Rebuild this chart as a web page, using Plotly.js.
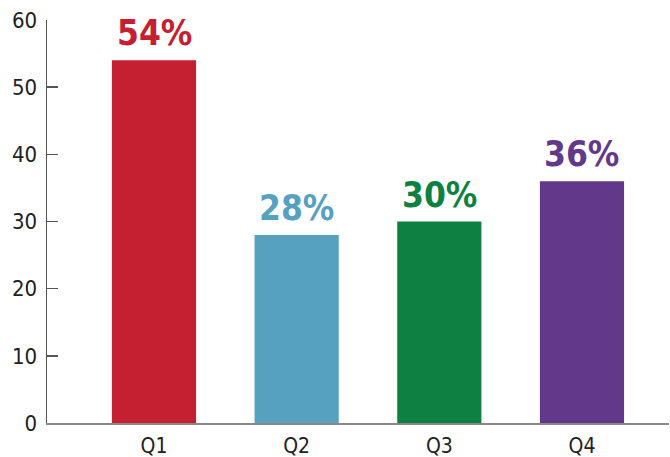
<!DOCTYPE html>
<html>
<head>
<meta charset="utf-8">
<script src="https://cdn.plot.ly/plotly-3.0.1.min.js"></script>
<style>html,body{margin:0;padding:0;background:#fff}#chart{width:670px;height:457px}</style>
</head>
<body>
<div id="chart"></div>
<script>
const categories = ["Q1", "Q2", "Q3", "Q4"];
const values = [54, 28, 30, 36];
const barColors = ["#C42032", "#56A1BF", "#0E8142", "#62398A"];
const yTicks = [0, 10, 20, 30, 40, 50, 60];

const FONT = "'DejaVu Sans Condensed', 'Liberation Sans Narrow', 'DejaVu Sans', sans-serif";

const trace = {
  type: "bar",
  x: categories,
  y: values,
  marker: { color: barColors },
  hoverinfo: "none"
};

const annotations = categories.map((c, i) => ({
  x: c, y: values[i], xref: "x", yref: "y",
  text: "<b>" + values[i] + "%</b>",
  showarrow: false, yanchor: "bottom", yshift: 5,
  font: { family: FONT, size: 35, color: barColors[i] }
}));

const layout = {
  width: 670, height: 457,
  margin: { l: 47, r: 1, t: 20, b: 34 },
  paper_bgcolor: "#fff", plot_bgcolor: "#fff",
  showlegend: false,
  bargap: 0.41,
  font: { family: FONT, color: "#222" },
  annotations: annotations,
  xaxis: {
    range: [-0.75, 3.61],
    showline: true, linecolor: "#888", linewidth: 2,
    ticks: "", showgrid: false, zeroline: false,
    tickfont: { size: 21, color: "#222" },
    ticklabelstandoff: 3
  },
  yaxis: {
    range: [0, 60],
    tickvals: yTicks,
    showline: true, linecolor: "#555", linewidth: 1.5,
    ticks: "inside", ticklen: 11, tickcolor: "#555", tickwidth: 1.5,
    showgrid: false, zeroline: false,
    tickfont: { size: 22, color: "#222" },
    ticklabelstandoff: 4
  }
};

Plotly.newPlot("chart", [trace], layout, { displayModeBar: false, staticPlot: true });
</script>
</body>
</html>
